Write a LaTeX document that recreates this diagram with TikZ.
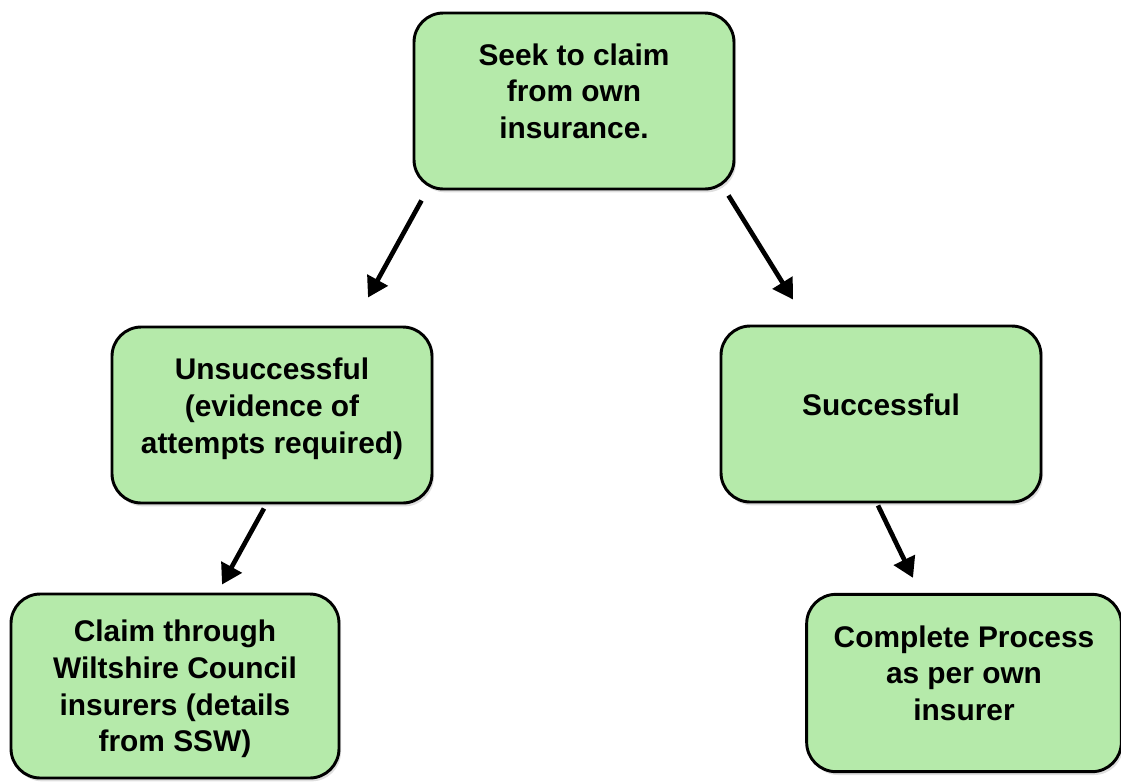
\documentclass[tikz,border=0pt]{standalone}
\usepackage{fontspec}
\setmainfont{Liberation Sans}
\usepackage{tikz}
\usetikzlibrary{shapes,arrows,positioning,calc,shadows,arrows.meta}
\definecolor{boxgreen}{HTML}{B5EAAA}
\tikzstyle{flowbox} = [draw, fill=boxgreen, line width=2.2pt, rounded corners=22pt, align=center,
  font=\fontsize{22.4}{27.5}\selectfont\bfseries, minimum width=240pt, minimum height=132pt,
  drop shadow={shadow xshift=1.5pt, shadow yshift=-2.5pt, opacity=0.25}]
\tikzstyle{arrow} = [-{Triangle[length=15pt,width=17pt]}, line width=3.5pt]

\begin{document}
\begin{tikzpicture}[x=0.75pt, y=-0.75pt]
    \useasboundingbox (0,0) rectangle (1121,783);
    % Nodes
    \node[flowbox, text depth=15pt] (seek) at (574,101) {Seek to claim\\from own\\insurance.};
    \node[flowbox, text depth=14pt] (unsucc) at (272,415) {Unsuccessful\\(evidence of\\attempts required)};
    \node[flowbox, text depth=14pt] (succ) at (881,414) {Successful};
    \node[flowbox, text depth=0pt, minimum width=246pt, minimum height=138pt] (claim) at (175,686) {Claim through\\Wiltshire Council\\insurers (details\\from SSW)};
    \node[flowbox, text depth=15pt, minimum width=236pt, minimum height=133pt] (complete) at (964,683) {Complete Process\\as per own\\insurer};
    % Arrows
    \draw[arrow] ([shift={(9,10)}]seek.south west) -- ([shift={(96,-28)}]unsucc.north);
    \draw[arrow] ([shift={(-7,5)}]seek.south east) -- ([shift={(-88,-25)}]succ.north);
    \draw[arrow] ([shift={(-8,4)}]unsucc.south) -- ([shift={(47,-8)}]claim.north);
    \draw[arrow] ([shift={(-3,2)}]succ.south) -- ([shift={(-51,-15)}]complete.north);
\end{tikzpicture}
\end{document}
